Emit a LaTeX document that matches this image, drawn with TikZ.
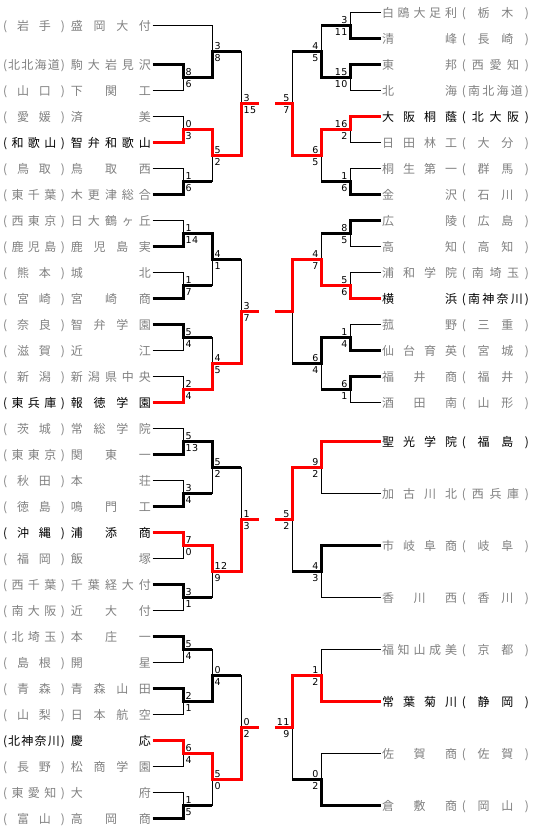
\documentclass[tikz,border=0pt]{standalone}
\usepackage{fontspec}
\newfontfamily\jp{Noto Sans CJK JP}
\newfontfamily\num{DejaVu Sans}[LetterSpace=6]

\makeatletter
\newcommand\spreadout[1]{\edef\spread@tmp{#1}\expandafter\spread@a\spread@tmp\spread@end}
\def\spread@a#1#2\spread@end{#1\if\relax\detokenize{#2}\relax\else\hfil\spread@a#2\spread@end\fi}
\makeatother

\newcommand\lname[2]{\hbox to 62pt{\spreadout{(#1)}}\hskip6pt\hbox to 80pt{\spreadout{#2}}}
\newcommand\rname[2]{\hbox to 75pt{\spreadout{#1}}\hskip5pt\hbox to 67pt{\spreadout{(#2)}}}

\tikzset{
  team/.style={font=\jp\fontsize{12pt}{12pt}\selectfont, inner sep=0pt, outer xsep=1.5pt, outer ysep=0pt, text height=10.56pt, text depth=1.44pt},
  score/.style={font=\num\fontsize{9.5pt}{10pt}\selectfont, inner sep=0pt, outer sep=0pt, text height=7pt, text depth=0pt},
  lost/.style={line width=1pt},
  won/.style={line width=3pt},
  best/.style={line width=3pt, red}
}

\begin{document}
\begin{tikzpicture}[x=1pt,y=-1pt]
\useasboundingbox (0,0) rectangle (534,833);

\foreach \i/\k/\p/\s/\c in {1/0.5/岩手/盛岡大付/gray, 2/2/北北海道/駒大岩見沢/gray, 3/3/山口/下関工/gray,
    4/4/愛媛/済美/gray, 5/5/和歌山/智弁和歌山/black, 6/6/鳥取/鳥取西/gray, 7/7/東千葉/木更津総合/gray,
    8/8/西東京/日大鶴ヶ丘/gray, 9/9/鹿児島/鹿児島実/gray, 10/10/熊本/城北/gray, 11/11/宮崎/宮崎商/gray,
    12/12/奈良/智弁学園/gray, 13/13/滋賀/近江/gray, 14/14/新潟/新潟県中央/gray, 15/15/東兵庫/報徳学園/black,
    16/16/茨城/常総学院/gray, 17/17/東東京/関東一/gray, 18/18/秋田/本荘/gray, 19/19/徳島/鳴門工/gray,
    20/20/沖縄/浦添商/black, 21/21/福岡/飯塚/gray, 22/22/西千葉/千葉経大付/gray, 23/23/南大阪/近大付/gray,
    24/24/北埼玉/本庄一/gray, 25/25/島根/開星/gray, 26/26/青森/青森山田/gray, 27/27/山梨/日本航空/gray,
    28/28/北神奈川/慶応/black, 29/29/長野/松商学園/gray, 30/30/東愛知/大府/gray, 31/31/富山/高岡商/gray}{
    \node[team, anchor=east, text=\c] (l\i) at (152.5,12.5+26*\k) {\lname{\p}{\s}};
}

\foreach \i/\k/\p/\s/\c in {0/0/栃木/白鴎大足利/gray, 1/1/長崎/清峰/gray, 2/2/西愛知/東邦/gray, 3/3/南北海道/北海/gray,
    4/4/北大阪/大阪桐蔭/black, 5/5/大分/日田林工/gray, 6/6/群馬/桐生第一/gray, 7/7/石川/金沢/gray,
    8/8/広島/広陵/gray, 9/9/高知/高知/gray, 10/10/南埼玉/浦和学院/gray, 11/11/南神奈川/横浜/black,
    12/12/三重/菰野/gray, 13/13/宮城/仙台育英/gray, 14/14/福井/福井商/gray, 15/15/山形/酒田南/gray,
    16/16.5/福島/聖光学院/black, 18/18.5/西兵庫/加古川北/gray, 20/20.5/岐阜/市岐阜商/gray, 22/22.5/香川/香川西/gray,
    24/24.5/京都/福知山成美/gray, 26/26.5/静岡/常葉菊川/black, 28/28.5/佐賀/佐賀商/gray, 30/30.5/岡山/倉敷商/gray}{
    \node[team, anchor=west, text=\c] (r\i) at (380.5,12.5+26*\k) {\rname{\s}{\p}};
}

\foreach \k in {2,4,...,30} \coordinate (p\k) at (183,25.5+26*\k);
\foreach \k in {0,4,...,28} \coordinate (q\k) at (212,51.5+26*\k);
\foreach \k in {0,8,16,24}{
    \coordinate (s\k) at (241,103.5+26*\k);
    \coordinate (e\k) at (259,103.5+26*\k);
}
\foreach \k in {0,2,...,14} \coordinate (u\k) at (350,25.5+26*\k);
\foreach \k in {0,4,...,28} \coordinate (v\k) at (321,51.5+26*\k);
\foreach \k in {0,8,16,24}{
    \coordinate (w\k) at (292,103.5+26*\k);
    \coordinate (f\k) at (275,103.5+26*\k);
}

\foreach \k in {2,4,...,30}{
    \pgfmathtruncatemacro\m{\k+1}
    \draw[lost] (l\k) -| (p\k) (l\m) -| (p\k);
}
\draw[lost] (l1) -| (q0) (p2) -| (q0);
\foreach \a/\b in {4/6,8/10,12/14,16/18,20/22,24/26,28/30}
    \draw[lost] (p\a) -| (q\a) (p\b) -| (q\a);
\foreach \a/\b in {0/4,8/12,16/20,24/28}
    \draw[lost] (q\a) -| (s\a) (q\b) -| (s\a);

\foreach \k in {0,2,...,14}{
    \pgfmathtruncatemacro\m{\k+1}
    \draw[lost] (r\k) -| (u\k) (r\m) -| (u\k);
}
\foreach \a/\b in {0/2,4/6,8/10,12/14}
    \draw[lost] (u\a) -| (v\a) (u\b) -| (v\a);
\foreach \a/\b in {16/18,20/22,24/26,28/30}
    \draw[lost] (r\a) -| (v\a) (r\b) -| (v\a);
\foreach \a/\b in {0/4,8/12,16/20,24/28}
    \draw[lost] (v\a) -| (w\a) (v\b) -| (w\a);

\draw[won] (l2) -| (p2) -| (q0) -- (q0 -| s0);
\draw[won] (l7) -| (p6) -- (p6 -| q4);
\draw[won] (l9) -| (p8) -| (q8) -- (q8 -| s8);
\draw[won] (l11) -| (p10) -- (p10 -| q8);
\draw[won] (l12) -| (p12) -- (p12 -| q12);
\draw[won] (l17) -| (p16) -| (q16) -- (q16 -| s16);
\draw[won] (l19) -| (p18) -- (p18 -| q16);
\draw[won] (l22) -| (p22) -- (p22 -| q20);
\draw[won] (l24) -| (p24) -- (p24 -| q24);
\draw[won] (l26) -| (p26) -| (q24) -- (q24 -| s24);
\draw[won] (l31) -| (p30) -- (p30 -| q28);

\draw[won] (r1) -| (u0) -- (u0 -| v0);
\draw[won] (r2) -| (u2) -| (v0) -- (v0 -| w0);
\draw[won] (r7) -| (u6) -- (u6 -| v4);
\draw[won] (r8) -| (u8) -- (u8 -| v8);
\draw[won] (r13) -| (u12) -| (v12) -- (v12 -| w8);
\draw[won] (r14) -| (u14) -- (u14 -| v12);
\draw[won] (r20) -| (v20) -- (v20 -| w16);
\draw[won] (r30) -| (v28) -- (v28 -| w24);

\draw[best] (l5) -| (p4) -| (q4) -| (s0) -- (e0);
\draw[best] (l15) -| (p14) -| (q12) -| (s8) -- (e8);
\draw[best] (l20) -| (p20) -| (q20) -| (s16) -- (e16);
\draw[best] (l28) -| (p28) -| (q28) -| (s24) -- (e24);
\draw[best] (r4) -| (u4) -| (v4) -| (w0) -- (f0);
\draw[best] (r11) -| (u10) -| (v8) -| (w8) -- (f8);
\draw[best] (r16) -| (v16) -| (w16) -- (f16);
\draw[best] (r26) -| (v24) -| (w24) -- (f24);

\foreach \c/\a/\b in {p2/8/6, q0/3/8, p4/0/3, p6/1/6, q4/5/2, s0/3/15, p8/1/14, p10/1/7, q8/4/1,
    p12/5/4, p14/2/4, q12/4/5, s8/3/7, p16/5/13, p18/3/4, q16/5/2, p20/7/0, p22/3/1, q20/12/9,
    s16/1/3, p24/5/4, p26/2/1, q24/0/4, p28/6/4, p30/1/5, q28/5/0, s24/0/2}{
    \node[score, anchor=south west] (a\c) at ([xshift=2.5pt,yshift=2pt]\c) {\a};
    \node[score, anchor=north west] (b\c) at ([xshift=2.5pt,yshift=-3pt]\c) {\b};
}
\foreach \c/\a/\b in {u0/3/11, u2/15/10, v0/4/5, u4/16/2, u6/1/6, v4/6/5, w0/5/7, u8/8/5, u10/5/6,
    v8/4/7, u12/1/4, u14/6/1, v12/6/4, v16/9/2, v20/4/3, w16/5/2, v24/1/2, v28/0/2, w24/11/9}{
    \node[score, anchor=south east] (a\c) at ([xshift=-2.5pt,yshift=2pt]\c) {\a};
    \node[score, anchor=north east] (b\c) at ([xshift=-2.5pt,yshift=-3pt]\c) {\b};
}
\end{tikzpicture}
\end{document}
